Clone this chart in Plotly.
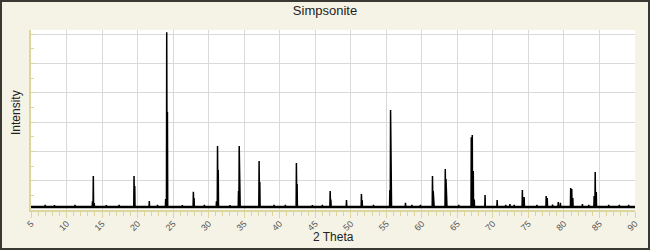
import plotly.graph_objects as go

# ---- data ----
x_range = [5, 90]
x_ticks = [5, 10, 15, 20, 25, 30, 35, 40, 45, 50, 55, 60, 65, 70, 75, 80, 85, 90]
baseline = 1.7

peak_pos = [13.65, 13.77, 13.9, 19.5, 19.6, 21.65, 23.95, 24.1, 24.2, 27.85, 27.95,
            31.1, 31.25, 31.35, 34.2, 34.3, 34.4, 37.1, 37.2, 42.35, 42.45,
            47.1, 47.2, 49.4, 51.5, 51.6, 55.5, 55.6, 55.7, 57.7,
            61.5, 61.6, 61.7, 63.3, 63.4, 63.5, 66.96, 67.1, 67.24, 67.38,
            68.9, 70.6, 72.4, 74.15, 74.4, 77.5, 77.65, 79.2, 79.5,
            80.95, 81.1, 81.25, 82.6, 84.25, 84.4, 84.55]
peak_int = [5.0, 19.3, 4.0, 19.3, 13.6, 5.1, 6.3, 101.0, 55.7, 10.4, 6.8,
            5.0, 36.4, 22.7, 10.8, 36.4, 20.5, 27.8, 15.9, 26.7, 14.8,
            10.8, 6.0, 5.7, 9.1, 5.7, 11.4, 56.8, 31.3, 4.1,
            19.3, 10.8, 6.0, 23.3, 17.6, 11.9, 41.3, 42.6, 22.2, 6.0,
            8.5, 5.7, 3.4, 11.4, 7.4, 8.0, 6.8, 4.5, 4.1,
            12.5, 11.9, 6.8, 3.4, 8.0, 21.6, 10.2]

# small noise bumps on the baseline
bump_pos = [7.0, 8.3, 11.2, 15.6, 17.4, 22.8, 26.3, 29.4, 33.0, 39.2, 40.8, 44.6,
            46.0, 53.2, 58.6, 59.8, 65.2, 71.8, 73.0, 76.2, 78.4, 83.5, 86.3, 87.8, 89.1]
bump_int = [2.9, 2.8, 2.9, 2.8, 2.9, 3.0, 2.8, 2.9, 2.8, 2.9, 3.0, 2.8,
            2.9, 2.9, 3.0, 2.9, 2.9, 3.0, 2.9, 2.9, 3.1, 2.9, 2.9, 3.0, 3.0]

# ---- build stick pattern ----
sticks = sorted(list(zip(peak_pos, peak_int)) + list(zip(bump_pos, bump_int)))
xs = [x_range[0]]
ys = [baseline]
hw = 0.04
for p, h in sticks:
    xs += [p - hw, p, p + hw]
    ys += [baseline, h, baseline]
xs.append(x_range[1])
ys.append(baseline)

fig = go.Figure()
fig.add_trace(go.Scatter(x=[x_range[0], x_range[1]], y=[baseline, baseline], mode="lines",
                         line=dict(color="black", width=2.6), hoverinfo="skip",
                         showlegend=False))
fig.add_trace(go.Scatter(x=xs, y=ys, mode="lines", line=dict(color="black", width=1.5),
                         showlegend=False))

W, H = 650, 250
L, R, T, B = 31, 15, 30, 40
pw, ph = W - L - R, H - T - B
axis_col = "#DCD59E"
grid_col = "#D9D9D9"
paper_col = "#F5F3E6"

fig.update_layout(
    width=W, height=H,
    margin=dict(l=L, r=R, t=T, b=B, autoexpand=False),
    paper_bgcolor=paper_col, plot_bgcolor="white",
    font=dict(family="Liberation Sans, Arial, sans-serif", color="#222"),
    title=dict(text="Simpsonite", x=0.5, xanchor="center", y=1 - 10 / H, yref="container",
               yanchor="middle", font=dict(size=13, color="#222")),
    xaxis=dict(range=x_range, tickvals=x_ticks, ticktext=[str(v) for v in x_ticks],
               tickangle=-45, tickfont=dict(size=9, color="#555"), ticklabelstandoff=-3,
               showgrid=True, gridcolor=grid_col, gridwidth=1, zeroline=False,
               showline=True, linecolor=axis_col, linewidth=2,
               ticks="outside", ticklen=6, tickcolor=axis_col, tickwidth=1,
               minor=dict(dtick=1, tick0=5, ticks="outside", ticklen=4, tickcolor=axis_col,
                          showgrid=False)),
    yaxis=dict(range=[0, 100 * ph / 176], tick0=0, dtick=100 / 6, showticklabels=False,
               showgrid=True, gridcolor=grid_col, gridwidth=1, zeroline=False,
               showline=True, linecolor=axis_col, linewidth=2,
               ticks="inside", ticklen=5, tickcolor=axis_col, tickwidth=1,
               minor=dict(dtick=100 / 12, tick0=0, ticks="inside", ticklen=3,
                          tickcolor=axis_col, showgrid=False)),
    annotations=[
        dict(text="2 Theta", xref="paper", yref="paper", x=0.5, y=(T + ph - 237) / ph,
             xanchor="center", yanchor="middle", showarrow=False,
             font=dict(size=12, color="#222")),
        dict(text="Intensity", xref="paper", yref="paper", x=(16 - L) / pw,
             y=(T + ph - 113) / ph, xanchor="center", yanchor="middle", textangle=-90,
             showarrow=False, font=dict(size=12, color="#222")),
    ],
    shapes=[dict(type="rect", xref="paper", yref="paper",
                 x0=(1 - L) / pw, x1=(W - 1 - L) / pw,
                 y0=(T + ph - (H - 1)) / ph, y1=(T + ph - 1) / ph,
                 line=dict(color="#3A3833", width=2), fillcolor="rgba(0,0,0,0)",
                 layer="above")],
)

fig.write_html("out.html")
